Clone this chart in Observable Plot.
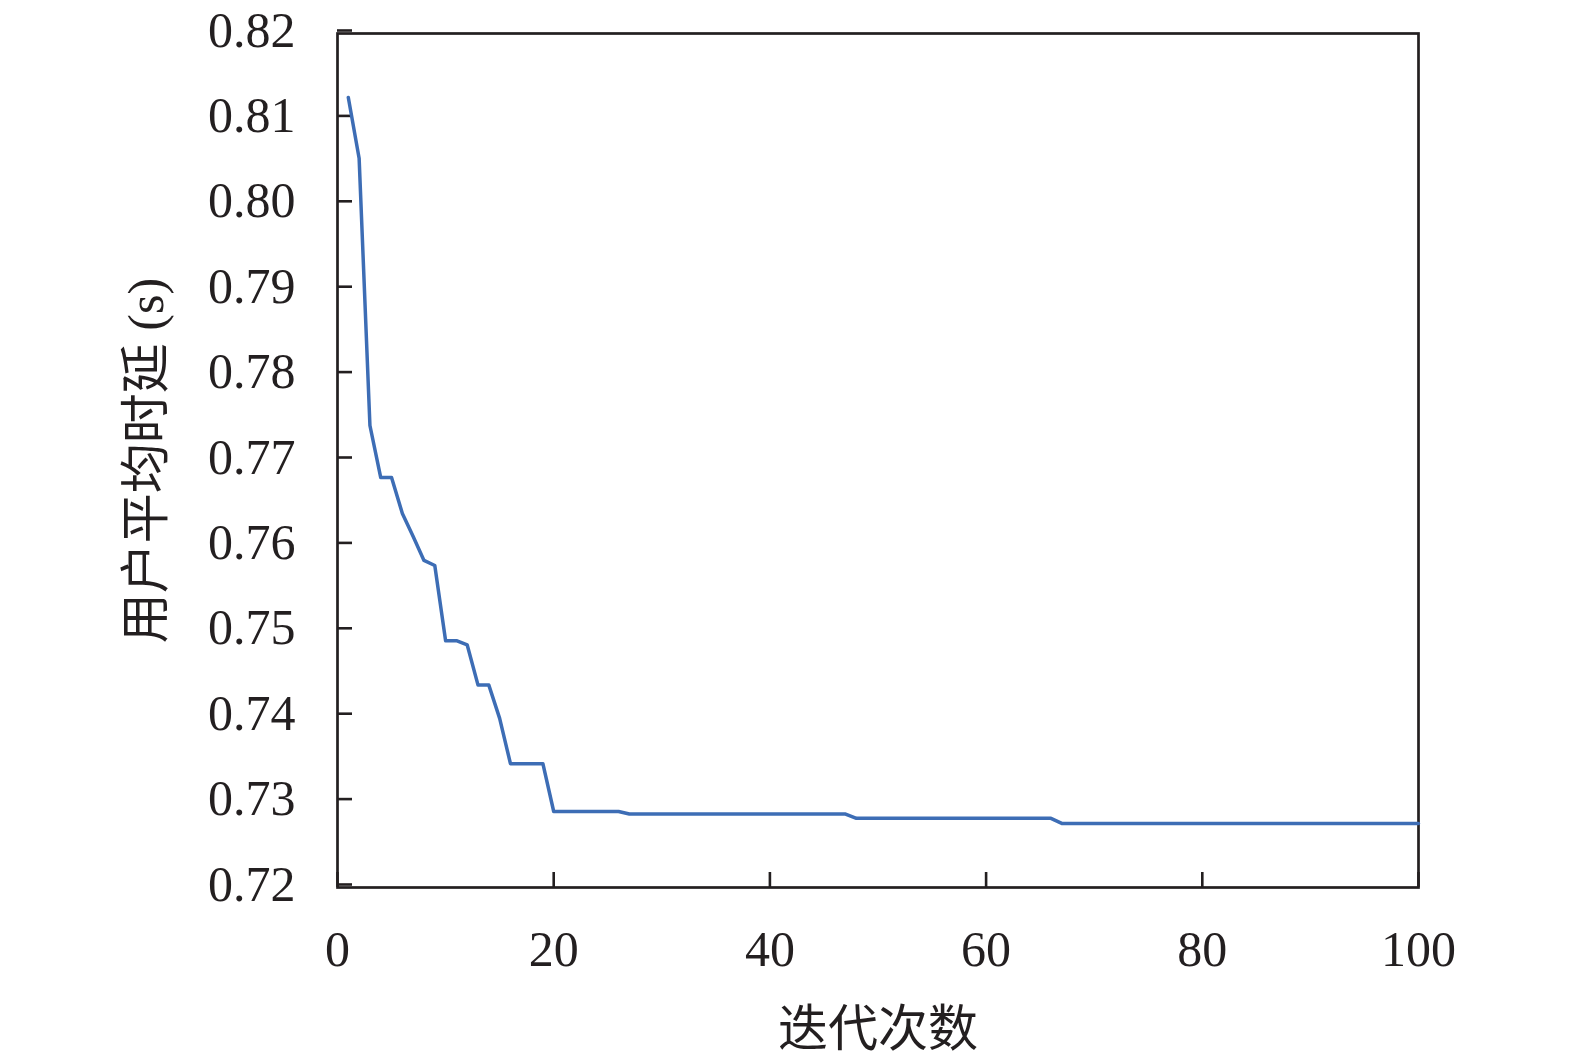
<!DOCTYPE html>
<html>
<head>
<meta charset="utf-8">
<script src="https://cdn.jsdelivr.net/npm/d3@7"></script>
<script src="https://cdn.jsdelivr.net/npm/@observablehq/plot@0.6"></script>
<style>
  html, body { margin: 0; padding: 0; background: #ffffff; }
</style>
</head>
<body>
<div id="chart"></div>
<script>
// Iterations where the curve changes slope (flat runs are straight segments between them)
const iterations = [1, 2, 3, 4, 5, 6, 7, 8, 9, 10, 11, 12, 13, 14, 15, 16, 19, 20, 26, 27, 47, 48, 66, 67, 100];
// Average user latency (s)
const latency = [0.8125, 0.8054, 0.7741, 0.7680, 0.7680, 0.7638, 0.7611, 0.7583, 0.7577, 0.7489, 0.7489, 0.7484, 0.7437, 0.7437, 0.7398, 0.7345, 0.7345, 0.7289, 0.7289, 0.7286, 0.7286, 0.7281, 0.7281, 0.7275, 0.7275];

const xTicks = [0, 20, 40, 60, 80, 100];
const yTicks = [0.72, 0.73, 0.74, 0.75, 0.76, 0.77, 0.78, 0.79, 0.80, 0.81, 0.82];
const xTitle = "迭代次数";
const yTitle = "用户平均时延 (s)";

const data = iterations.map((x, i) => ({x, y: latency[i]}));
const ink = "#231f20";

const chart = Plot.plot({
  width: 1575,
  height: 1061,
  marginLeft: 337,
  marginRight: 157,
  marginTop: 33,
  marginBottom: 174,
  style: {
    fontFamily: '"Liberation Serif", "Noto Sans CJK SC", serif',
    fontSize: "50px",
    color: ink,
    background: "#ffffff"
  },
  x: {domain: [0, 100]},
  y: {domain: [0.72, 0.82]},
  marks: [
    Plot.axisX(xTicks, {tickSize: -15, tickPadding: 58, label: null, strokeWidth: 2.6, fontSize: 50}),
    Plot.axisY(yTicks, {tickSize: -15, tickPadding: 57, label: null, strokeWidth: 2.6, fontSize: 50, tickFormat: d3.format(".2f"), dy: -3}),
    Plot.frame({stroke: ink, strokeWidth: 2.7}),
    Plot.line(data, {x: "x", y: "y", stroke: "#3d6db5", strokeWidth: 3.5}),
    Plot.text([xTitle], {frameAnchor: "bottom", textAnchor: "middle", lineAnchor: "middle", dy: 142, fontSize: 50, fill: ink, fontFamily: '"Noto Sans CJK SC", sans-serif'}),
    Plot.text([yTitle], {frameAnchor: "left", textAnchor: "middle", lineAnchor: "middle", rotate: -90, dx: -191, fontSize: 50, fill: ink})
  ]
});
document.getElementById("chart").appendChild(chart);
</script>
</body>
</html>
